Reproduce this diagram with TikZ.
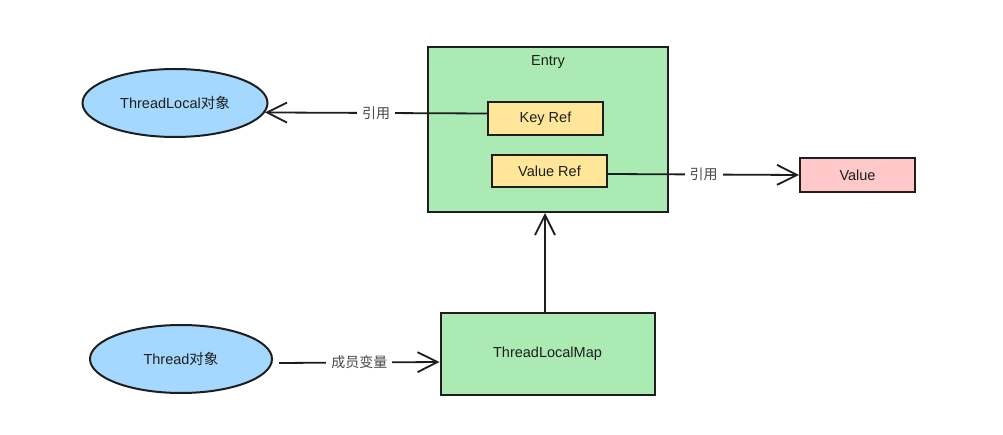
\documentclass[tikz,border=0pt]{standalone}
\usepackage{fontspec}
\setmainfont{Liberation Sans}
\newfontfamily\cjk{Noto Sans CJK SC}
\usetikzlibrary{shapes.geometric,arrows.meta,calc}
\definecolor{eblue}{HTML}{A5D8FF}
\definecolor{egreen}{HTML}{ABEBB3}
\definecolor{eyellow}{HTML}{FFE699}
\definecolor{epink}{HTML}{FFC9C9}
\definecolor{eink}{HTML}{1E1E1E}
\tikzset{
  shape base/.style={draw=eink, line width=2pt, text=eink, font=\fontsize{14.5}{16}\selectfont, inner sep=0pt},
  ell/.style={shape base, ellipse, fill=eblue},
  gbox/.style={shape base, rectangle, fill=egreen},
  ybox/.style={shape base, rectangle, fill=eyellow},
  pbox/.style={shape base, rectangle, fill=epink},
  plain/.style={text=eink, font=\fontsize{14.5}{16}\selectfont, inner sep=0pt},
  arr/.style={draw=eink, line width=1.8pt, -{Straight Barb[length=20pt,width=20pt,line width=1.8pt]}},
  lbl/.style={fill=white, text=black!72, font=\cjk\fontsize{14}{16}\selectfont, inner xsep=5pt, inner ysep=2pt}
}
\begin{document}
\begin{tikzpicture}[x=1pt,y=-1pt]
\useasboundingbox[fill=white] (0,0) rectangle (1003,435);
% nodes
\node[ell, minimum width=185pt, minimum height=68pt] (tl) at (175,103) {ThreadLocal{\cjk 对象}};
\node[ell, minimum width=182pt, minimum height=68pt] (th) at (181,359) {Thread{\cjk 对象}};
\node[gbox, minimum width=240pt, minimum height=165pt] (entry) at (548,129.5) {};
\node[plain] (entrylbl) at (548,62) {Entry};
\node[ybox, minimum width=115pt, minimum height=33pt] (key) at (545.5,118.5) {Key Ref};
\node[ybox, minimum width=115pt, minimum height=32pt] (vref) at (549.5,171) {Value Ref};
\node[pbox, minimum width=115pt, minimum height=34pt] (val) at (857.5,175) {Value};
\node[gbox, minimum width=214pt, minimum height=82pt] (tlm) at (547.5,354) {ThreadLocalMap};
% connectors
\draw[arr] ([yshift=5pt]key.west) -- node[lbl] {引用} (tl.-6);
\draw[arr] ([yshift=-3pt]vref.east) -- node[lbl] {引用} (val.west);
\draw[arr] ($(th.east)+(6,4)$) -- node[lbl] {成员变量} ([yshift=-8pt]tlm.west);
\draw[arr] ([xshift=-2.5pt]tlm.north) -- ([xshift=-2.5pt]tlm.north |- entry.south);
\end{tikzpicture}
\end{document}
